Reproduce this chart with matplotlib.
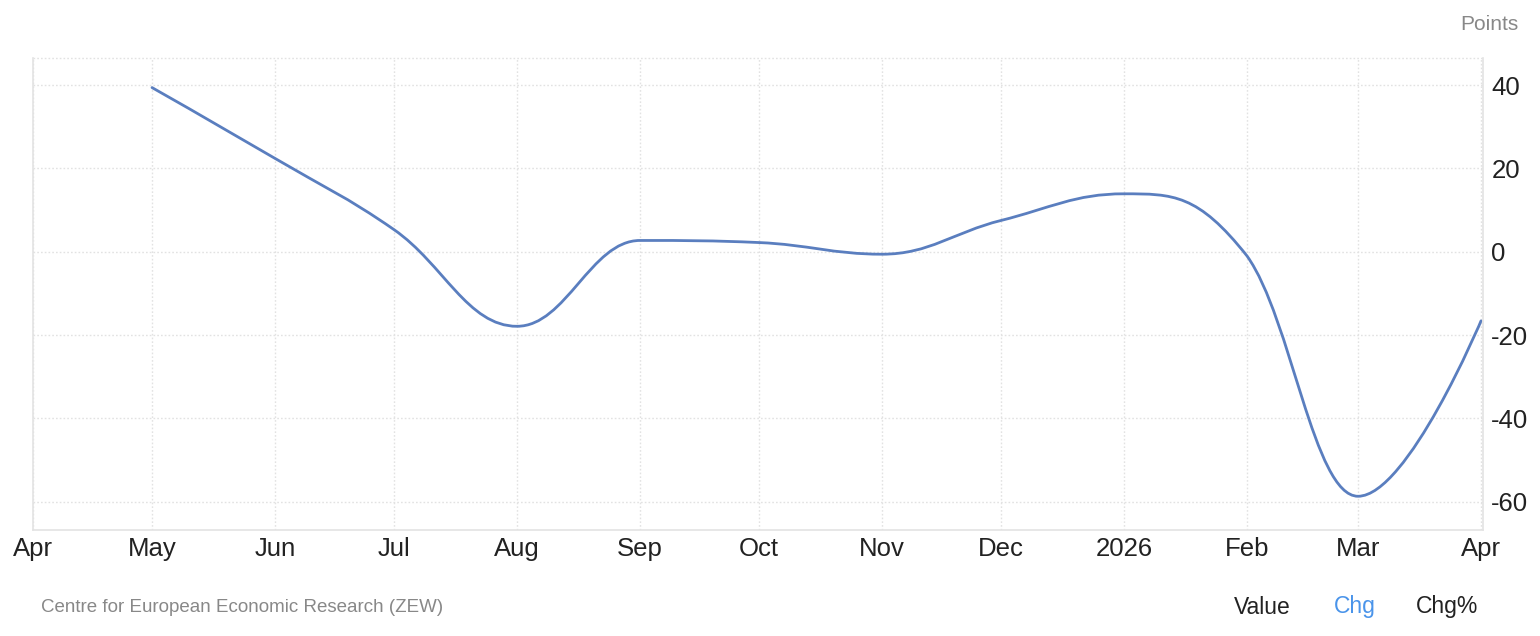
import datetime as dt
import numpy as np
import matplotlib
matplotlib.use("Agg")
import matplotlib.pyplot as plt
import matplotlib.dates as mdates
from matplotlib.path import Path
from matplotlib.patches import PathPatch

plt.rcParams['font.family'] = ['Liberation Sans', 'DejaVu Sans']
plt.rcParams['axes.unicode_minus'] = False

# ZEW economic sentiment, monthly change in points
months = ['2025-05', '2025-06', '2025-07', '2025-08', '2025-09', '2025-10',
          '2025-11', '2025-12', '2026-01', '2026-02', '2026-03', '2026-04']
chg = [39.4, 22.4, 5.3, -17.9, 2.7, 2.2, -0.6, 7.5, 13.9, -1.0, -58.7, -16.6]
tick_labels = ['Apr', 'May', 'Jun', 'Jul', 'Aug', 'Sep', 'Oct', 'Nov', 'Dec',
               '2026', 'Feb', 'Mar', 'Apr']
yticks = [-60, -40, -20, 0, 20, 40]

line_col = '#5a7ebf'
grid_col = '#e2e2e2'

x = mdates.date2num([dt.datetime.strptime(m, '%Y-%m') for m in months])
y = np.array(chg, dtype=float)


def spline_path(xs, ys, smoothing=1.5):
    # highcharts-style spline: cubic bezier with clamped control points
    n = len(xs)
    denom = smoothing + 1
    lc = [None] * n
    rc = [None] * n
    for i in range(1, n - 1):
        px, py = xs[i - 1], ys[i - 1]
        nx, ny = xs[i + 1], ys[i + 1]
        cx, cy = xs[i], ys[i]
        lx = (smoothing * cx + px) / denom
        ly = (smoothing * cy + py) / denom
        rx = (smoothing * cx + nx) / denom
        ry = (smoothing * cy + ny) / denom
        corr = (ry - ly) * (rx - cx) / (rx - lx) + cy - ry
        ly += corr
        ry += corr
        if ly > py and ly > cy:
            ly = max(py, cy)
            ry = 2 * cy - ly
        elif ly < py and ly < cy:
            ly = min(py, cy)
            ry = 2 * cy - ly
        if ry > ny and ry > cy:
            ry = max(ny, cy)
            ly = 2 * cy - ry
        elif ry < ny and ry < cy:
            ry = min(ny, cy)
            ly = 2 * cy - ry
        lc[i] = (lx, ly)
        rc[i] = (rx, ry)
    verts = [(xs[0], ys[0])]
    codes = [Path.MOVETO]
    for i in range(1, n):
        c1 = rc[i - 1] if rc[i - 1] is not None else (xs[i - 1], ys[i - 1])
        c2 = lc[i] if lc[i] is not None else (xs[i], ys[i])
        verts += [c1, c2, (xs[i], ys[i])]
        codes += [Path.CURVE4] * 3
    return Path(verts, codes)


fig = plt.figure(figsize=(15.4, 6.36), dpi=100)
ax = fig.add_axes([33 / 1540, 1 - 530 / 636, 1450 / 1540, 472 / 636])

ax.add_patch(PathPatch(spline_path(x, y), facecolor='none', edgecolor=line_col,
                       lw=2.0, capstyle='round', joinstyle='round'))

start = mdates.date2num(dt.datetime(2025, 4, 1))
end = mdates.date2num(dt.datetime(2026, 4, 1))
ax.set_xlim(start, end + 0.5)
ax.set_ylim(-66.8, 46.5)

tick_pos = mdates.date2num([dt.datetime(2025 + (3 + k) // 12, (3 + k) % 12 + 1, 1)
                            for k in range(13)])
ax.set_xticks(tick_pos)
ax.set_xticklabels(tick_labels)
ax.set_yticks(yticks)
ax.yaxis.tick_right()
ax.tick_params(axis='both', length=0, labelsize=18.5, colors='#222222')
ax.tick_params(axis='x', pad=5)
ax.tick_params(axis='y', pad=6)
for lbl in ax.get_yticklabels():
    lbl.set_horizontalalignment('left')

ax.grid(True, color=grid_col, linestyle=(0, (1.2, 1.5)), linewidth=1.0)
ax.set_axisbelow(True)
for side in ['left', 'bottom', 'right']:
    ax.spines[side].set_color('#e3e3e3')
    ax.spines[side].set_linewidth(1.2)
ax.spines['top'].set_visible(False)
ax.axhline(46.5, color=grid_col, linestyle=(0, (1.2, 1.5)), linewidth=1.0,
           clip_on=False, zorder=0)

fig.text(1519 / 1540, 1 - 25 / 636, 'Points', ha='right', va='center',
         fontsize=15, color='#888888')
fig.text(41 / 1540, 1 - 607 / 636, 'Centre for European Economic Research (ZEW)',
         ha='left', va='center', fontsize=13.5, color='#888888')
fig.text(1262 / 1540, 1 - 607 / 636, 'Value', ha='center', va='center',
         fontsize=16.5, color='#222222')
fig.text(1355 / 1540, 1 - 607 / 636, 'Chg', ha='center', va='center',
         fontsize=16.5, color='#4a94ea')
fig.text(1447 / 1540, 1 - 607 / 636, 'Chg%', ha='center', va='center',
         fontsize=16.5, color='#222222')

fig.savefig('out.png', dpi=100)
